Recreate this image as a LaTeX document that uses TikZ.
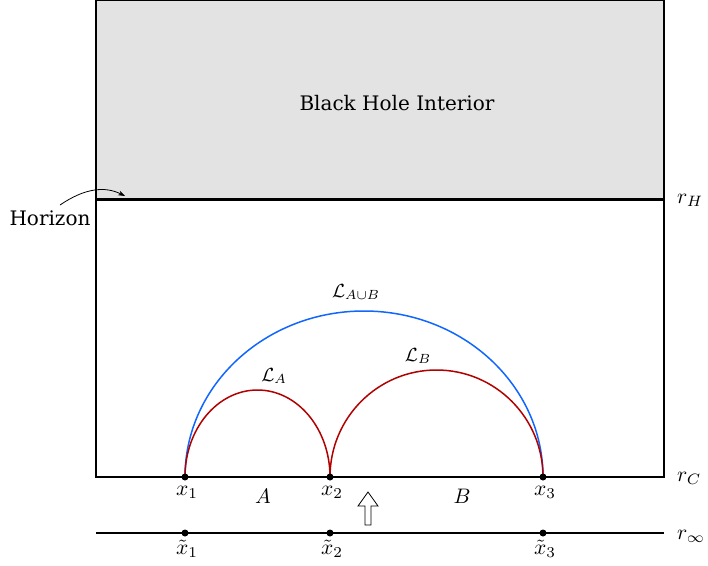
\documentclass[tikz,border=0pt]{standalone}
\usepackage{fontspec}
\setmainfont{DejaVu Serif}
\usetikzlibrary{arrows.meta}
\definecolor{holegray}{HTML}{E3E3E3}
\definecolor{curveblue}{HTML}{1166FF}
\definecolor{curvered}{HTML}{B00000}
\newcommand{\mlabsm}[1]{\scalebox{1.9}{$#1$}}
\newcommand{\mlabmd}[1]{\scalebox{2.15}{$#1$}}
\newcommand{\mlablg}[1]{\scalebox{2.1}{$#1$}}
\tikzset{
  pt/.style={circle,fill=black,inner sep=0pt,minimum size=7pt},
  lab/.style={inner sep=1pt},
  bnd/.style={line width=2pt},
  arcline/.style={line width=1.5pt}
}
\begin{document}
\begin{tikzpicture}[x=1pt,y=-1pt]
\useasboundingbox (0,0) rectangle (708,565);
% interior
\fill[holegray] (96,0) rectangle (664,199);
\draw[bnd] (96,0) rectangle (664,477);
\draw[line width=3pt] (96,199) -- (664,199);
\draw[bnd] (96,533) -- (664,533);
\node[font=\fontsize{20}{20}\selectfont] (bhi) at (397,103) {Black Hole Interior};
% curves
\draw[arcline,curveblue] (185,477) arc[start angle=180,end angle=360,x radius=179,y radius=166];
\draw[arcline,curvered] (185,477) arc[start angle=180,end angle=360,x radius=72.5,y radius=87];
\draw[arcline,curvered] (330,477) arc[start angle=180,end angle=360,x radius=106.5,y radius=107];
% points
\node[pt] (x1) at (185,477) {};
\node[pt] (x2) at (330,477) {};
\node[pt] (x3) at (543,477) {};
\node[pt] (y1) at (185,533) {};
\node[pt] (y2) at (330,533) {};
\node[pt] (y3) at (543,533) {};
\node[lab] (lx1) at (187,492) {\mlabmd{x_1}};
\node[lab] (lx2) at (332,492) {\mlabmd{x_2}};
\node[lab] (lx3) at (545,492) {\mlabmd{x_3}};
\node[lab] (ly1) at (187,549) {\mlabmd{\tilde{x}_1}};
\node[lab] (ly2) at (332,549) {\mlabmd{\tilde{x}_2}};
\node[lab] (ly3) at (545,549) {\mlabmd{\tilde{x}_3}};
\node[lab] (la) at (263,496) {\mlablg{A}};
\node[lab] (lb) at (462,496) {\mlablg{B}};
\node[lab] (lLA) at (274,376) {\mlabsm{\mathcal{L}_A}};
\node[lab] (lLB) at (418,356) {\mlabsm{\mathcal{L}_B}};
\node[lab] (lLAB) at (356,292) {\mlabsm{\mathcal{L}_{A\cup B}}};
\node[lab,anchor=west] (rH) at (676,200) {\mlabmd{r_H}};
\node[lab,anchor=west] (rC) at (676,478) {\mlabmd{r_C}};
\node[lab,anchor=west] (ri) at (676,536) {\mlabmd{r_\infty}};
% hollow arrow
\draw[line width=0.8pt,fill=white] (365,525) -- (365,506) -- (358,506) -- (368,492) -- (378,506) -- (371,506) -- (371,525) -- cycle;
% horizon
\node[font=\fontsize{20}{20}\selectfont] (hz) at (50,218) {Horizon};
\coordinate (hzt) at (125,196);
\draw[-{Stealth[length=7pt,width=5pt]},line width=0.8pt] (60,205) .. controls (85,188) and (105,186) .. (hzt);
\end{tikzpicture}
\end{document}
